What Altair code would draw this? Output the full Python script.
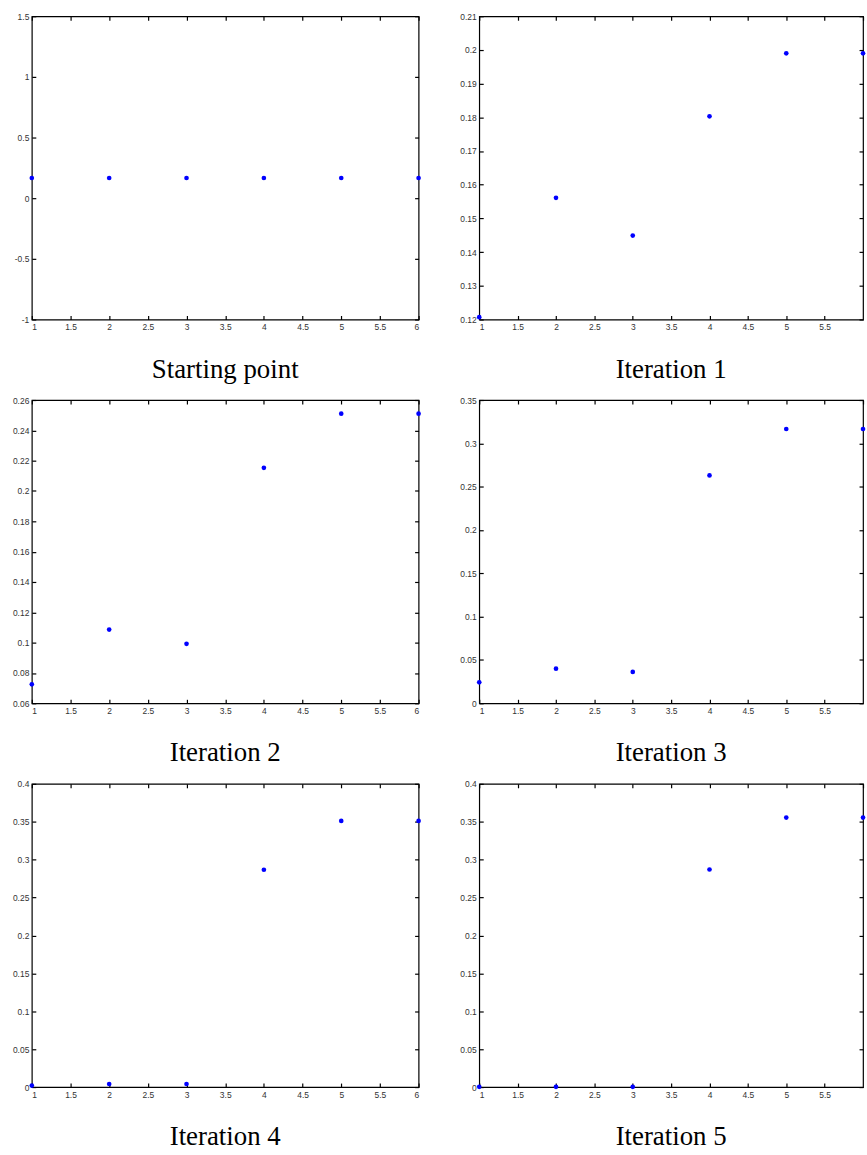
import altair as alt
import pandas as pd

x_idx = [1, 2, 3, 4, 5, 6]
x_ticks = [1, 1.5, 2, 2.5, 3, 3.5, 4, 4.5, 5, 5.5, 6]
x_ticks_right = [1, 1.5, 2, 2.5, 3, 3.5, 4, 4.5, 5, 5.5]

titles = ["Starting point", "Iteration 1", "Iteration 2",
          "Iteration 3", "Iteration 4", "Iteration 5"]

vals_start = [0.1667, 0.1667, 0.1667, 0.1667, 0.1667, 0.1667]
vals_it1 = [0.1207, 0.1561, 0.1449, 0.1803, 0.1990, 0.1990]
vals_it2 = [0.0725, 0.1086, 0.0992, 0.2153, 0.2510, 0.2510]
vals_it3 = [0.0242, 0.0399, 0.0362, 0.2630, 0.3166, 0.3166]
vals_it4 = [0.0020, 0.0040, 0.0040, 0.2866, 0.3511, 0.3511]
vals_it5 = [0.0003, 0.0003, 0.0003, 0.2870, 0.3555, 0.3555]

dom_start = [-1, 1.5]
dom_it1 = [0.12, 0.21]
dom_it2 = [0.06, 0.26]
dom_it3 = [0, 0.35]
dom_it4 = [0, 0.4]
dom_it5 = [0, 0.4]

ticks_start = [-1, -0.5, 0, 0.5, 1, 1.5]
ticks_it1 = [0.12, 0.13, 0.14, 0.15, 0.16, 0.17, 0.18, 0.19, 0.2, 0.21]
ticks_it2 = [0.06, 0.08, 0.1, 0.12, 0.14, 0.16, 0.18, 0.2, 0.22, 0.24, 0.26]
ticks_it3 = [0, 0.05, 0.1, 0.15, 0.2, 0.25, 0.3, 0.35]
ticks_it4 = [0, 0.05, 0.1, 0.15, 0.2, 0.25, 0.3, 0.35, 0.4]
ticks_it5 = [0, 0.05, 0.1, 0.15, 0.2, 0.25, 0.3, 0.35, 0.4]

series = [vals_start, vals_it1, vals_it2, vals_it3, vals_it4, vals_it5]
domains = [dom_start, dom_it1, dom_it2, dom_it3, dom_it4, dom_it5]
yticks = [ticks_start, ticks_it1, ticks_it2, ticks_it3, ticks_it4, ticks_it5]

LABEL_FONT = "Liberation Sans"
TICK = 4


def axis(orient, values, labels=True):
    return alt.Axis(
        orient=orient, values=values, labels=labels, title=None, grid=False,
        domain=False, ticks=True, tickSize=TICK, tickColor="#000", tickWidth=1.2,
        offset=-TICK, labelPadding=3, labelFont=LABEL_FONT, labelFontSize=8.5,
        labelColor="#333", labelExpr="toString(datum.value)",
        labelOverlap=False,
    )


def panel(i):
    df = pd.DataFrame({"x": x_idx, "y": series[i]})
    right_col = i % 2 == 1
    xs = alt.Scale(domain=[1, 6], nice=False, zero=False)
    ys = alt.Scale(domain=domains[i], nice=False, zero=False)
    base = alt.Chart(df)
    pts = base.mark_circle(size=22, color="#0000ff", opacity=1, clip=False).encode(
        x=alt.X("x:Q", scale=xs, axis=axis("bottom", x_ticks_right if right_col else x_ticks)),
        y=alt.Y("y:Q", scale=ys, axis=axis("left", yticks[i])),
    )
    frame = base.mark_circle(opacity=0).encode(
        x=alt.X("x:Q", scale=xs, axis=axis("top", x_ticks, labels=False)),
        y=alt.Y("y:Q", scale=ys, axis=axis("right", yticks[i], labels=False)),
    )
    w = 386 if right_col else 389
    return alt.layer(pts, frame).resolve_axis(x="independent", y="independent").properties(
        width=w, height=305,
        title=alt.TitleParams(
            titles[i], orient="bottom", font="Liberation Serif", fontSize=27,
            fontWeight="normal", color="#000", offset=26, anchor="middle",
        ),
    )


chart = alt.concat(
    *[panel(i) for i in range(6)], columns=2,
    spacing={"row": 81, "column": 61}, bounds="flush",
).properties(
    padding={"left": 11, "top": 8, "right": 0, "bottom": 0},
    background="white",
).configure_view(
    stroke="#000", strokeWidth=1.2
)

chart.save("out.html", embed_options={"renderer": "svg", "actions": False})
